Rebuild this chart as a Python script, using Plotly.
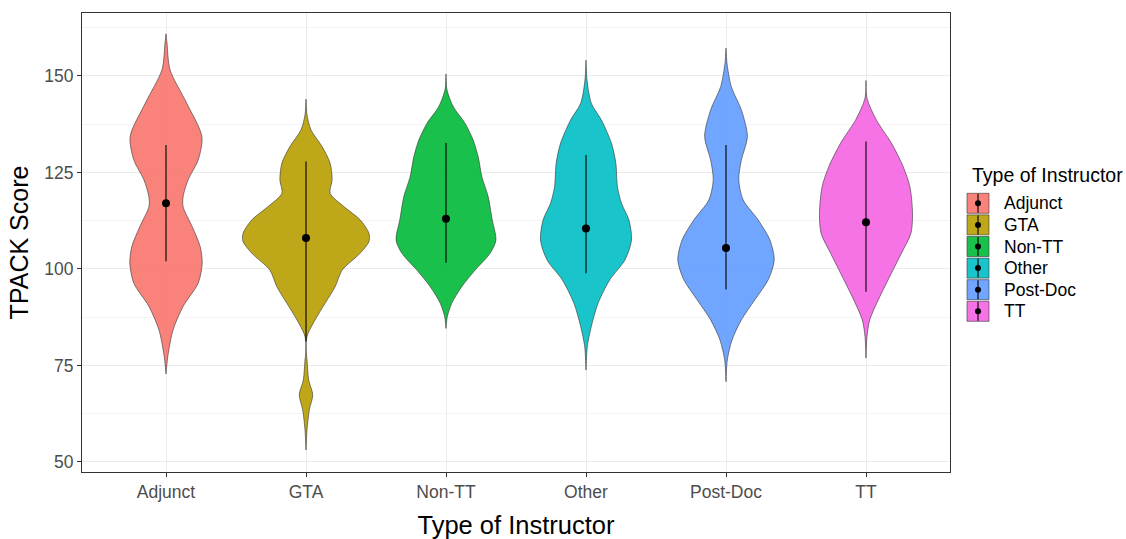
import plotly.graph_objects as go

categories = ["Adjunct", "GTA", "Non-TT", "Other", "Post-Doc", "TT"]
colors = ["#F8766D", "#B79F00", "#00BA38", "#00BFC4", "#619CFF", "#F564E3"]

# summary: centre point and line range per group
means = [117.0, 108.0, 113.0, 110.5, 105.4, 112.1]
lows = [102.0, 81.2, 101.6, 98.9, 94.7, 94.1]
highs = [132.1, 127.8, 132.6, 129.5, 132.1, 133.0]

# violin density profiles (score value, relative density)
adjunct_y = [160.9, 158.5, 151.6, 142.9, 134.3, 128.2, 123.1, 118.7, 116.1, 111.0, 105.8, 101.5, 96.3, 90.3, 84.2, 78.2, 75.6, 72.8]
adjunct_d = [0.0, 1.0, 4.0, 20.7, 35.7, 32.0, 22.0, 17.0, 17.0, 26.0, 34.0, 36.0, 32.0, 17.0, 7.0, 2.3, 1.0, 0.0]

gta_y = [144.0, 139.9, 136.0, 131.7, 127.4, 123.1, 119.6, 116.1, 112.7, 109.2, 107.1, 104.1, 99.7, 95.4, 91.1, 86.8, 83.3, 81.6, 78.2, 76.4, 71.2, 67.4, 63.5, 58.3, 53.1]
gta_d = [0.0, 1.0, 5.0, 16.0, 24.0, 26.0, 24.0, 38.0, 54.0, 62.7, 62.7, 54.0, 36.0, 29.0, 19.0, 9.0, 2.0, 0.3, 0.3, 1.0, 2.7, 6.7, 3.3, 1.0, 0.0]

nontt_y = [150.5, 146.4, 142.0, 137.7, 133.4, 129.1, 123.9, 118.7, 112.7, 107.5, 104.1, 99.7, 95.4, 91.1, 87.6, 84.6]
nontt_d = [0.0, 1.0, 7.3, 19.0, 27.0, 32.0, 35.7, 42.0, 46.0, 49.7, 44.0, 29.0, 15.7, 5.7, 1.3, 0.0]

other_y = [154.1, 149.0, 142.9, 138.6, 132.6, 127.4, 121.3, 117.0, 112.7, 107.5, 102.3, 97.2, 91.1, 85.1, 79.9, 73.8]
other_d = [0.0, 1.0, 5.3, 15.3, 25.3, 29.7, 31.3, 35.3, 42.7, 45.3, 38.7, 23.7, 12.0, 5.3, 1.3, 0.0]

postdoc_y = [157.2, 153.3, 147.2, 141.2, 134.3, 128.2, 123.1, 117.9, 112.7, 107.5, 102.3, 97.2, 92.0, 86.8, 81.6, 76.4, 70.8]
postdoc_d = [0.0, 1.0, 5.3, 15.3, 21.3, 15.3, 12.7, 17.0, 32.0, 43.7, 48.0, 42.0, 28.7, 15.3, 6.0, 1.3, 0.0]

tt_y = [148.8, 144.2, 138.6, 132.6, 126.5, 121.3, 114.4, 109.2, 104.1, 98.9, 92.8, 86.8, 82.5, 76.9]
tt_d = [0.0, 1.0, 10.3, 25.3, 37.0, 43.7, 46.3, 44.7, 35.3, 25.3, 13.7, 3.7, 1.0, 0.0]

y_ticks = [50, 75, 100, 125, 150]

profiles = [(adjunct_y, adjunct_d), (gta_y, gta_d), (nontt_y, nontt_d),
            (other_y, other_d), (postdoc_y, postdoc_d), (tt_y, tt_d)]
dmax = max(max(d) for _, d in profiles)
half = 0.45  # ggplot violin width 0.9


def with_alpha(hex_col, a=0.9):
    r, g, b = int(hex_col[1:3], 16), int(hex_col[3:5], 16), int(hex_col[5:7], 16)
    return f"rgba({r},{g},{b},{a})"


FONT = "Liberation Sans, Arial, sans-serif"
W, H = 1126, 539
ML, MR, MT, MB = 82, 176, 13, 67
PW, PH = W - ML - MR, H - MT - MB

fig = go.Figure()

for i, (cat, col, (ys, ds)) in enumerate(zip(categories, colors, profiles)):
    pos = i + 1
    xs_right = [pos + half * d / dmax for d in ds]
    xs_left = [pos - half * d / dmax for d in ds]
    x = xs_right + xs_left[::-1] + [xs_right[0]]
    y = ys + ys[::-1] + [ys[0]]
    fig.add_trace(go.Scatter(
        x=x, y=y, mode="lines", fill="toself", fillcolor=with_alpha(col),
        line=dict(color="#333333", width=0.6, shape="spline", smoothing=0.8),
        name=cat, showlegend=False, hoverinfo="skip"))

positions = list(range(1, len(categories) + 1))
fig.add_trace(go.Scatter(
    x=positions, y=means, mode="markers",
    marker=dict(color="black", size=8),
    error_y=dict(type="data", symmetric=False,
                 array=[h - m for h, m in zip(highs, means)],
                 arrayminus=[m - l for m, l in zip(means, lows)],
                 width=0, thickness=1.1, color="black"),
    showlegend=False, hoverinfo="skip"))

# ---- legend (drawn in figure pixels, converted to paper coords) ----
def px_x(px):
    return (px - ML) / PW

def px_y(py):
    return (H - MB - py) / PH

shapes = []
annotations = []
annotations.append(dict(
    text="Type of Instructor", xref="paper", yref="paper",
    x=px_x(970), y=px_y(175), xanchor="left", yanchor="middle",
    showarrow=False, font=dict(size=19.5, color="black", family=FONT)))
key_w, key_h, row = 22, 20, 21.6
for i, (cat, col) in enumerate(zip(categories, colors)):
    cy = 203.3 + i * row
    kx0 = 967
    shapes.append(dict(type="rect", xref="paper", yref="paper",
                       x0=px_x(kx0), x1=px_x(kx0 + key_w),
                       y0=px_y(cy - key_h / 2), y1=px_y(cy + key_h / 2),
                       fillcolor=with_alpha(col), line=dict(color="#333333", width=0.6)))
    cx = kx0 + key_w / 2
    shapes.append(dict(type="line", xref="paper", yref="paper",
                       x0=px_x(cx), x1=px_x(cx),
                       y0=px_y(cy - key_h / 2 + 0.5), y1=px_y(cy + key_h / 2 - 0.5),
                       line=dict(color="black", width=1.1)))
    shapes.append(dict(type="circle", xref="paper", yref="paper",
                       x0=px_x(cx - 3), x1=px_x(cx + 3),
                       y0=px_y(cy - 3), y1=px_y(cy + 3),
                       fillcolor="black", line=dict(color="black", width=0)))
    annotations.append(dict(
        text=cat, xref="paper", yref="paper",
        x=px_x(1001.5), y=px_y(cy), xanchor="left", yanchor="middle",
        showarrow=False, font=dict(size=17.5, color="black", family=FONT)))

fig.update_layout(
    width=W, height=H,
    margin=dict(l=ML, r=MR, t=MT, b=MB),
    plot_bgcolor="white", paper_bgcolor="white",
    font=dict(family=FONT, color="black"),
    showlegend=False,
    shapes=shapes, annotations=annotations,
    xaxis=dict(
        range=[0.4, 6.6], tickmode="array", tickvals=positions, ticktext=categories,
        showgrid=True, gridcolor="#EBEBEB", gridwidth=1,
        showline=True, linecolor="#333333", linewidth=1, mirror=True,
        ticks="outside", ticklen=4, tickcolor="#333333",
        tickfont=dict(size=17.5, color="#4D4D4D"),
        title=dict(text="Type of Instructor", font=dict(size=25.5, color="black"), standoff=15),
        zeroline=False, automargin=False),
    yaxis=dict(
        range=[47.4, 166.3], tickmode="array", tickvals=y_ticks,
        showgrid=True, gridcolor="#EBEBEB", gridwidth=1,
        minor=dict(dtick=12.5, tick0=50, showgrid=True, gridcolor="#F4F4F4", gridwidth=0.6),
        showline=True, linecolor="#333333", linewidth=1, mirror=True,
        ticks="outside", ticklen=4, tickcolor="#333333",
        tickfont=dict(size=17.5, color="#4D4D4D"),
        title=dict(text="TPACK Score", font=dict(size=25, color="black"), standoff=8),
        zeroline=False, automargin=False),
)

fig.write_html(
    "out.html",
    config={"displayModeBar": False},
    post_script="document.body.style.margin='0';document.body.style.overflow='hidden';",
)
